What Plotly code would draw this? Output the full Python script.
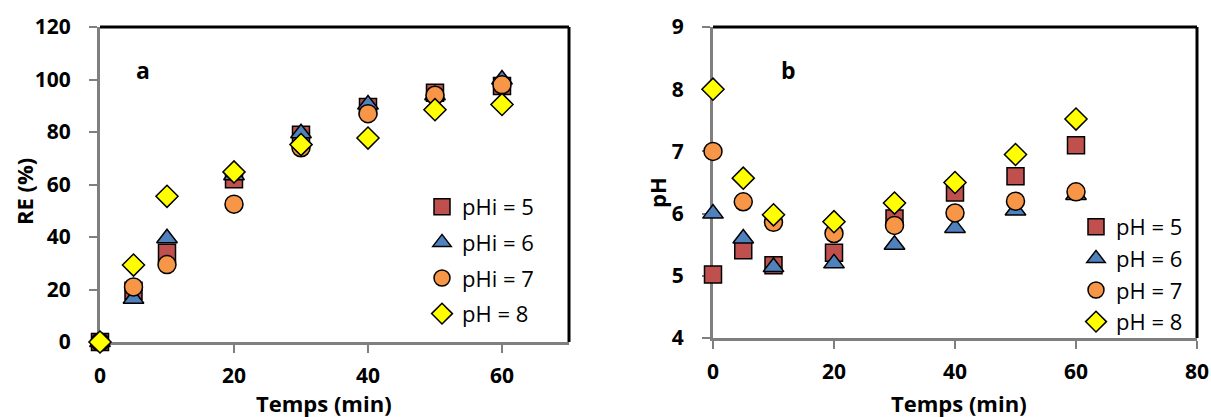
import plotly.graph_objects as go

# time points (min)
temps = [0, 5, 10, 20, 30, 40, 50, 60]

# (a) removal efficiency RE (%)
re_ph5 = [0, 19.5, 34, 62, 79, 89.5, 95, 97.5]
re_ph6 = [0, 16.5, 39.5, 63.5, 79.5, 90.5, 94, 100]
re_ph7 = [0, 21, 29.5, 52.5, 74, 87, 94, 98]
re_ph8 = [0, 29.3, 55.5, 64.8, 75.2, 77.7, 88.5, 90.5]

# (b) pH evolution
ph_5 = [5.02, 5.41, 5.17, 5.37, 5.92, 6.34, 6.6, 7.1]
ph_6 = [6.0, 5.6, 5.14, 5.2, 5.5, 5.77, 6.05, 6.3]
ph_7 = [7.0, 6.19, 5.86, 5.68, 5.81, 6.01, 6.2, 6.35]
ph_8 = [8.0, 6.57, 5.98, 5.87, 6.17, 6.5, 6.95, 7.52]

names_a = ["pHi = 5", "pHi = 6", "pHi = 7", "pH = 8"]
names_b = ["pH = 5", "pH = 6", "pH = 7", "pH = 8"]

colors = ["#C0504D", "#4F81BD", "#F79646", "#FFFF00"]
symbols = ["square", "triangle-up", "circle", "diamond"]
sizes = [17, 18, 18, 17]

W, H = 1211, 417
FONT = "Open Sans"
GRAY = "#7f7f7f"

fig = go.Figure()

for i, ys in enumerate([re_ph5, re_ph6, re_ph7, re_ph8]):
    fig.add_trace(go.Scatter(
        x=temps, y=ys, mode="markers", name=names_a[i],
        xaxis="x", yaxis="y", legend="legend", legendgroup="a%d" % i,
        cliponaxis=False,
        marker=dict(symbol=symbols[i], size=sizes[i], color=colors[i],
                    line=dict(color="black", width=1.5)),
    ))

for i, ys in enumerate([ph_5, ph_6, ph_7, ph_8]):
    fig.add_trace(go.Scatter(
        x=temps, y=ys, mode="markers", name=names_b[i],
        xaxis="x2", yaxis="y2", legend="legend2",
        cliponaxis=False,
        marker=dict(symbol=symbols[i], size=sizes[i], color=colors[i],
                    line=dict(color="black", width=1.5)),
    ))


def px_x(p):
    return p / W


def px_y(p):
    return 1 - p / H


axis_common = dict(
    showline=True, linecolor=GRAY, linewidth=3, showgrid=False, zeroline=False,
    ticks="outside", ticklen=8, tickwidth=2, tickcolor=GRAY,
    tickfont=dict(family=FONT, size=21, color="black", weight="bold"),
    layer="below traces", automargin=False,
)

fig.update_layout(
    width=W, height=H,
    margin=dict(l=0, r=0, t=0, b=0),
    paper_bgcolor="white", plot_bgcolor="white",
    showlegend=True,
    xaxis=dict(domain=[px_x(100), px_x(569)], range=[0, 70], tickvals=[0, 20, 40, 60],
               anchor="y", ticklabelstandoff=5, **axis_common),
    yaxis=dict(domain=[px_y(342), px_y(27)], range=[0, 120], dtick=20,
               anchor="x", ticklabelstandoff=14, **axis_common),
    xaxis2=dict(domain=[px_x(713), px_x(1197)], range=[0, 80], dtick=20,
                anchor="y2", ticklabelstandoff=5, **axis_common),
    yaxis2=dict(domain=[px_y(338), px_y(27)], range=[4, 9], dtick=1,
                anchor="x2", ticklabelstandoff=14, **axis_common),
    legend=dict(x=px_x(422), y=px_y(186), xanchor="left", yanchor="top",
                bgcolor="rgba(0,0,0,0)", tracegroupgap=4,
                font=dict(family=FONT, size=22, color="black")),
    legend2=dict(x=px_x(1076), y=px_y(206), xanchor="left", yanchor="top",
                 bgcolor="rgba(0,0,0,0)", tracegroupgap=0,
                 font=dict(family=FONT, size=22, color="black")),
)

# black top / right frame lines
for xa, ya in [("x", "y"), ("x2", "y2")]:
    fig.add_shape(type="line", xref=xa + " domain", yref=ya + " domain",
                  x0=0, x1=1, y0=1, y1=1, line=dict(color="black", width=3))
    fig.add_shape(type="line", xref=xa + " domain", yref=ya + " domain",
                  x0=1, x1=1, y0=0, y1=1, line=dict(color="black", width=3))

title_font = dict(family=FONT, size=22, color="black", weight="bold")
annots = [
    dict(text="RE (%)", x=px_x(24), y=px_y(192), textangle=-90, font=title_font),
    dict(text="Temps (min)", x=px_x(324), y=px_y(403), font=title_font),
    dict(text="pH", x=px_x(657), y=px_y(193), textangle=-90, font=title_font),
    dict(text="Temps (min)", x=px_x(959), y=px_y(403), font=title_font),
    dict(text="a", x=px_x(143), y=px_y(70), font=dict(family=FONT, size=23, color="black", weight="bold")),
    dict(text="b", x=px_x(788), y=px_y(70), font=dict(family=FONT, size=23, color="black", weight="bold")),
]
for a in annots:
    fig.add_annotation(xref="paper", yref="paper", showarrow=False,
                       xanchor="center", yanchor="middle", **a)

# drop the default page margin so the figure fills the window
fig.write_html("out.html", config={"displayModeBar": False},
               post_script="document.body.style.margin='0';document.body.style.overflow='hidden';")
